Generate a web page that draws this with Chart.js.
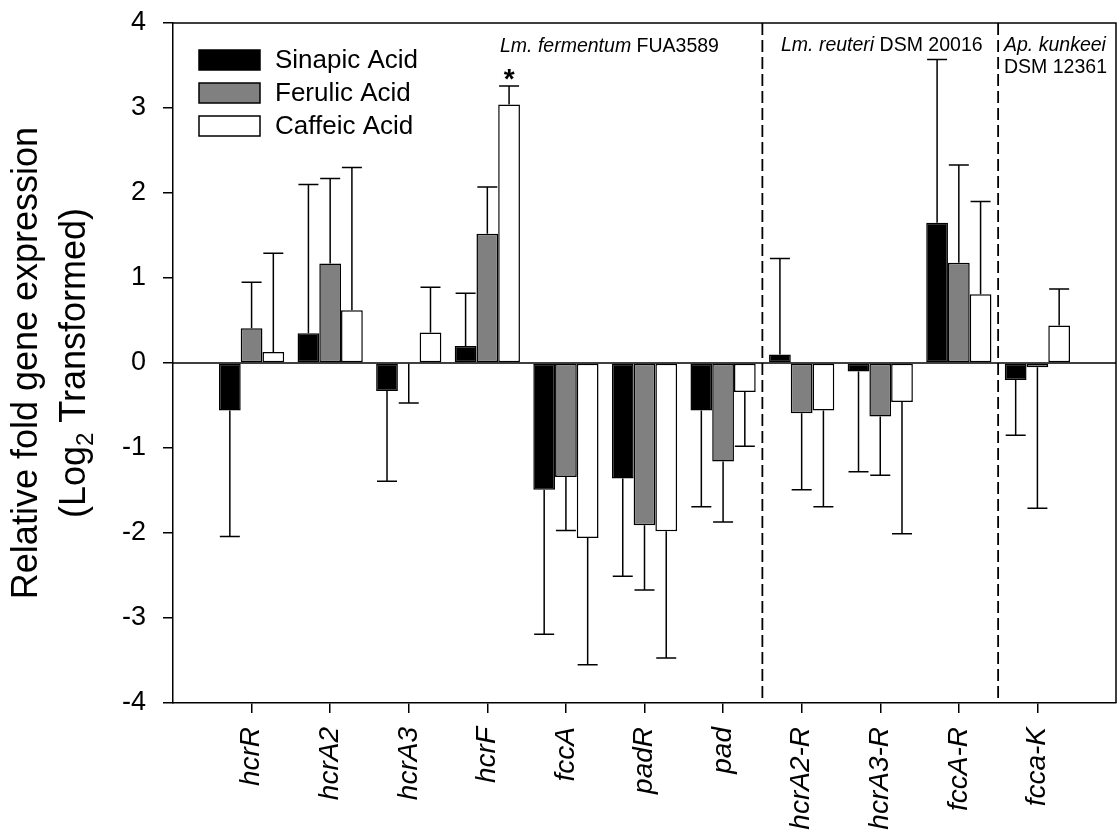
<!DOCTYPE html>
<html>
<head>
<meta charset="utf-8">
<title>Relative fold gene expression</title>
<script src="https://cdn.jsdelivr.net/npm/chart.js@4.4.1/dist/chart.umd.min.js"></script>
<style>
  html, body { margin: 0; padding: 0; background: #fff; }
  #wrap { width: 1118px; height: 836px; }
</style>
</head>
<body>
<div id="wrap"><canvas id="myChart" width="1118" height="836"></canvas></div>
<script>
// genes on the x axis
const genes = ["hcrR", "hcrA2", "hcrA3", "hcrF", "fccA", "padR", "pad", "hcrA2-R", "hcrA3-R", "fccA-R", "fcca-K"];

// log2 fold change
const sinapic = [-0.56, 0.35, -0.33, 0.20, -1.49, -1.36, -0.56, 0.10, -0.10, 1.65, -0.20];
const ferulic = [0.41, 1.17, -0.01, 1.52, -1.34, -1.91, -1.16, -0.59, -0.63, 1.18, -0.05];
const caffeic = [0.13, 0.62, 0.36, 3.04, -2.06, -1.98, -0.34, -0.56, -0.46, 0.81, 0.44];

// one-sided error bars (length)
const sinapicSd = [1.48, 1.75, 1.06, 0.62, 1.70, 1.15, 1.13, 1.13, 1.18, 1.92, 0.65];
const ferulicSd = [0.54, 1.00, 0.46, 0.55, 0.63, 0.76, 0.71, 0.90, 0.69, 1.15, 1.66];
const caffeicSd = [1.16, 1.68, 0.53, 0.22, 1.49, 1.49, 0.64, 1.13, 1.55, 1.09, 0.43];

const seriesNames = ["Sinapic Acid", "Ferulic Acid", "Caffeic Acid"];
const yTicks = [-4, -3, -2, -1, 0, 1, 2, 3, 4];
const yTitle = ["Relative fold gene expression", "(Log", "2", " Transformed)"];

const FONT = '"Liberation Sans", Arial, sans-serif';

// empty slot on each side so the groups sit one full step in from the axes
const labels = ["", ...genes, ""];
const pad = (arr) => [null, ...arr, null];

const fills = ["#000000", "#808080", "#ffffff"];
const errors = [sinapicSd, ferulicSd, caffeicSd];

// Error bars, zero line, frame, legend and strain notes
const extras = {
  id: "extras",
  afterDatasetsDraw(chart) {
    const ctx = chart.ctx;
    const area = chart.chartArea;
    const y = chart.scales.y;
    const x = chart.scales.x;

    // zero line
    ctx.save();
    ctx.strokeStyle = "#000";
    ctx.lineWidth = 1.5;
    ctx.beginPath();
    ctx.moveTo(area.left, y.getPixelForValue(0));
    ctx.lineTo(area.right, y.getPixelForValue(0));
    ctx.stroke();

    // error bars
    ctx.lineWidth = 1.5;
    chart.data.datasets.forEach((ds, di) => {
      const meta = chart.getDatasetMeta(di);
      errors[di].forEach((sd, i) => {
        const v = ds.data[i + 1];
        const bar = meta.data[i + 1];
        const end = v >= 0 ? v + sd : v - sd;
        const y0 = y.getPixelForValue(v);
        const y1 = y.getPixelForValue(end);
        ctx.beginPath();
        ctx.moveTo(bar.x, y0);
        ctx.lineTo(bar.x, y1);
        ctx.moveTo(bar.x - 10, y1);
        ctx.lineTo(bar.x + 10, y1);
        ctx.stroke();
      });
    });

    // dashed separators between strains
    ctx.setLineDash([12, 5]);
    ctx.lineWidth = 1.8;
    [7.5, 10.5].forEach((pos) => {
      const px = x.getPixelForValue(pos);
      ctx.beginPath();
      ctx.moveTo(px, area.top);
      ctx.lineTo(px, area.bottom);
      ctx.stroke();
    });
    ctx.setLineDash([]);

    // frame top/right
    ctx.lineWidth = 1.5;
    ctx.beginPath();
    ctx.moveTo(area.left, area.top);
    ctx.lineTo(area.right, area.top);
    ctx.lineTo(area.right, area.bottom);
    ctx.stroke();

    // legend
    ctx.font = "26px " + FONT;
    ctx.textBaseline = "middle";
    ctx.textAlign = "left";
    seriesNames.forEach((name, i) => {
      const top = 50 + i * 33;
      ctx.fillStyle = fills[i];
      ctx.fillRect(199, top, 61, 20);
      ctx.strokeStyle = "#000";
      ctx.lineWidth = 1.5;
      ctx.strokeRect(199, top, 61, 20);
      ctx.fillStyle = "#000";
      ctx.fillText(name, 275, top + 11);
    });

    // strain notes
    ctx.textBaseline = "alphabetic";
    const note = (parts, px, py) => {
      let cx = px;
      parts.forEach(([txt, italic]) => {
        ctx.font = (italic ? "italic " : "") + "19.5px " + FONT;
        ctx.fillText(txt, cx, py);
        cx += ctx.measureText(txt).width;
      });
    };
    note([["Lm. fermentum ", true], ["FUA3589", false]], 500, 52);
    note([["Lm. reuteri ", true], ["DSM 20016", false]], 781, 51);
    note([["Ap. kunkeei", true]], 1004, 51);
    note([["DSM 12361", false]], 1004, 73);

    // significance star over hcrF caffeic
    const star = chart.getDatasetMeta(2).data[4];
    ctx.font = "bold 28px " + FONT;
    ctx.textAlign = "center";
    ctx.fillText("*", star.x, 88);

    // y axis title with subscript
    const cy = (area.top + area.bottom) / 2;
    ctx.save();
    ctx.translate(37, cy);
    ctx.rotate(-Math.PI / 2);
    ctx.font = "36px " + FONT;
    ctx.textAlign = "center";
    ctx.fillText(yTitle[0], 0, 0);
    ctx.restore();

    ctx.save();
    ctx.translate(85, cy);
    ctx.rotate(-Math.PI / 2);
    ctx.textAlign = "left";
    ctx.font = "36px " + FONT;
    const w1 = ctx.measureText(yTitle[1]).width;
    const w3 = ctx.measureText(yTitle[3]).width;
    ctx.font = "24px " + FONT;
    const w2 = ctx.measureText(yTitle[2]).width;
    let tx = -(w1 + w2 + w3) / 2;
    ctx.font = "36px " + FONT;
    ctx.fillText(yTitle[1], tx, 0);
    tx += w1;
    ctx.font = "24px " + FONT;
    ctx.fillText(yTitle[2], tx, 8);
    tx += w2;
    ctx.font = "36px " + FONT;
    ctx.fillText(yTitle[3], tx, 0);
    ctx.restore();

    ctx.restore();
  },
};

const chartData = {
  labels: labels,
  datasets: [sinapic, ferulic, caffeic].map((vals, i) => ({
    label: seriesNames[i],
    data: pad(vals),
    backgroundColor: fills[i],
    borderColor: "#000",
    borderWidth: 1.5,
    borderSkipped: false,
    categoryPercentage: 0.83,
    barPercentage: 1.0,
  })),
};

const config = {
  type: "bar",
  data: chartData,
  plugins: [extras],
  options: {
    responsive: false,
    animation: false,
    devicePixelRatio: 1,
    layout: { padding: { left: 0, right: 2, top: 23, bottom: 0 } },
    plugins: {
      legend: { display: false },
      tooltip: { enabled: false },
    },
    scales: {
      x: {
        offset: false,
        grid: {
          offset: false,
          drawOnChartArea: false,
          drawTicks: true,
          tickLength: 10,
          lineWidth: 1.5,
          color: (c) => (c.index === 0 || c.index === labels.length - 1 ? "rgba(0,0,0,0)" : "#000"),
        },
        border: { display: true, color: "#000", width: 1.5 },
        ticks: {
          autoSkip: false,
          minRotation: 90,
          maxRotation: 90,
          padding: 14,
          color: "#000",
          font: { family: FONT, size: 28, style: "italic" },
        },
        afterFit: (scale) => {
          scale.height = 133;
          scale.paddingLeft = 0;
          scale.paddingRight = 0;
        },
      },
      y: {
        min: yTicks[0],
        max: yTicks[yTicks.length - 1],
        afterBuildTicks: (scale) => { scale.ticks = yTicks.map((v) => ({ value: v })); },
        grid: {
          drawOnChartArea: false,
          drawTicks: true,
          tickLength: 10,
          lineWidth: 1.5,
          color: "#000",
        },
        border: { display: true, color: "#000", width: 1.5 },
        ticks: {
          padding: 17,
          color: "#000",
          font: { family: FONT, size: 27 },
        },
        afterFit: (scale) => {
          scale.width = 173;
          scale.paddingTop = 0;
          scale.paddingBottom = 0;
        },
      },
    },
  },
};

const myChart = new Chart(document.getElementById("myChart"), config);
</script>
</body>
</html>
